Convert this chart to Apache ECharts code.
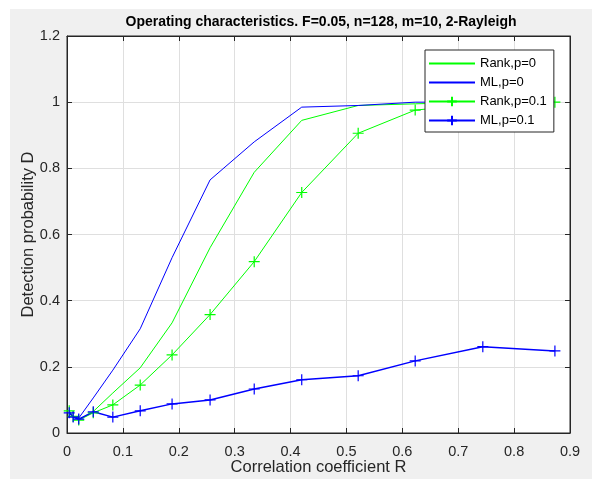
<!DOCTYPE html>
<html>
<head>
<meta charset="utf-8">
<script src="https://cdn.jsdelivr.net/npm/echarts@6/dist/echarts.min.js"></script>
<style>
  html, body { margin: 0; padding: 0; background: #fff; }
  #main-chart { position: absolute; left: 10px; top: 9px; width: 582px; height: 470px; }
</style>
</head>
<body>
<div id="main-chart"></div>
<script>
// correlation coefficient R (x positions)
const rValues = [0.004, 0.011, 0.021, 0.047, 0.082, 0.131, 0.188, 0.256, 0.335, 0.420, 0.521, 0.623, 0.744, 0.873]
// detection probability D
const rankP0  = [0.060, 0.050, 0.040, 0.065, 0.121, 0.197, 0.333, 0.560, 0.788, 0.945, 0.990, 0.995, 1.000, 1.000]
const mlP0    = [0.060, 0.050, 0.045, 0.106, 0.190, 0.315, 0.530, 0.765, 0.880, 0.985, 0.990, 1.000, 1.000, 1.000]
const rankP01 = [0.067, 0.050, 0.039, 0.061, 0.085, 0.145, 0.236, 0.358, 0.518, 0.727, 0.906, 0.976, 0.995, 1.000]
const mlP01   = [0.061, 0.048, 0.042, 0.064, 0.048, 0.067, 0.088, 0.100, 0.133, 0.161, 0.173, 0.218, 0.261, 0.248]
const xTicks = [0, 0.1, 0.2, 0.3, 0.4, 0.5, 0.6, 0.7, 0.8, 0.9]
const yTicks = [0, 0.2, 0.4, 0.6, 0.8, 1, 1.2]
const legendNames = ['Rank,p=0', 'ML,p=0', 'Rank,p=0.1', 'ML,p=0.1']

const green = '#00ff00'
const blue = '#0000ff'
const plus = 'path://M5,0 L5,10 M0,5 L10,5'
const font = 'Liberation Sans, Arial, Helvetica, sans-serif'

const pairs = (ys) => rValues.map((r, i) => [r, ys[i]])

const mkLine = (name, ys, color, marked) => ({
  name: name,
  type: 'line',
  data: pairs(ys),
  symbol: marked ? plus : 'none',
  symbolSize: 11,
  showSymbol: marked,
  lineStyle: { color: color, width: marked && color === blue ? 1.5 : 1 },
  itemStyle: { color: color, borderColor: color, borderWidth: 1.2 },
  emphasis: { disabled: true },
  animation: false
})

const chartDom = document.getElementById('main-chart')
const myChart = echarts.init(chartDom)

const axisCommon = {
  type: 'value',
  nameMoveOverlap: false,
  axisLine: { show: true, onZero: false, lineStyle: { color: '#262626', width: 1 } },
  axisTick: { show: true, inside: true, length: 5, lineStyle: { color: '#262626' } },
  splitLine: { show: true, lineStyle: { color: '#dfdfdf', width: 1 } },
  axisLabel: { color: '#262626', fontSize: 14.5, fontFamily: font }
}

const option = {
  backgroundColor: '#f0f0f0',
  animation: false,
  title: {
    text: 'Operating characteristics. F=0.05, n=128, m=10, 2-Rayleigh',
    left: 306,
    top: 1,
    textAlign: 'center',
    textStyle: { fontSize: 14, fontWeight: 'bold', color: '#000', fontFamily: font }
  },
  grid: {
    left: 57, right: 22, top: 27, bottom: 46,
    containLabel: false,
    outerBoundsMode: 'none',
    show: true, backgroundColor: '#fff', borderColor: '#262626', borderWidth: 1
  },
  legend: {
    orient: 'vertical',
    left: 415,
    top: 41,
    backgroundColor: '#fff',
    borderColor: '#262626',
    borderWidth: 1,
    padding: [7, 7, 5, 3],
    itemWidth: 46,
    itemHeight: 12,
    itemGap: 6,
    textStyle: { fontSize: 13, color: '#000', fontFamily: font },
    data: legendNames.map((n, i) => i < 2 ? { name: n, itemStyle: { opacity: 0 } } : { name: n })
  },
  xAxis: [
    Object.assign({}, axisCommon, {
      min: 0, max: 0.9, interval: 0.1,
      name: 'Correlation coefficient R',
      nameLocation: 'middle',
      nameGap: 26,
      nameTextStyle: { fontSize: 16.5, color: '#262626', fontFamily: font },
      axisLabel: Object.assign({}, axisCommon.axisLabel, {
        margin: 11,
        formatter: (v) => xTicks.find(t => Math.abs(t - v) < 1e-6) + ''
      })
    }),
    Object.assign({}, axisCommon, {
      position: 'top', min: 0, max: 0.9, interval: 0.1,
      axisLabel: { show: false }, splitLine: { show: false }
    })
  ],
  yAxis: [
    Object.assign({}, axisCommon, {
      min: 0, max: 1.2, interval: 0.2,
      name: 'Detection probability D',
      nameLocation: 'middle',
      nameGap: 30,
      nameTextStyle: { fontSize: 16.5, color: '#262626', fontFamily: font },
      axisLabel: Object.assign({}, axisCommon.axisLabel, {
        margin: 7,
        formatter: (v) => yTicks.find(t => Math.abs(t - v) < 1e-6) + ''
      })
    }),
    Object.assign({}, axisCommon, {
      position: 'right', min: 0, max: 1.2, interval: 0.2,
      axisLabel: { show: false }, splitLine: { show: false }
    })
  ],
  series: [
    mkLine(legendNames[0], rankP0, green, false),
    mkLine(legendNames[1], mlP0, blue, false),
    mkLine(legendNames[2], rankP01, green, true),
    mkLine(legendNames[3], mlP01, blue, true)
  ]
}

myChart.setOption(option)
window.addEventListener('resize', function () {
  myChart.resize()
})
</script>
</body>
</html>
